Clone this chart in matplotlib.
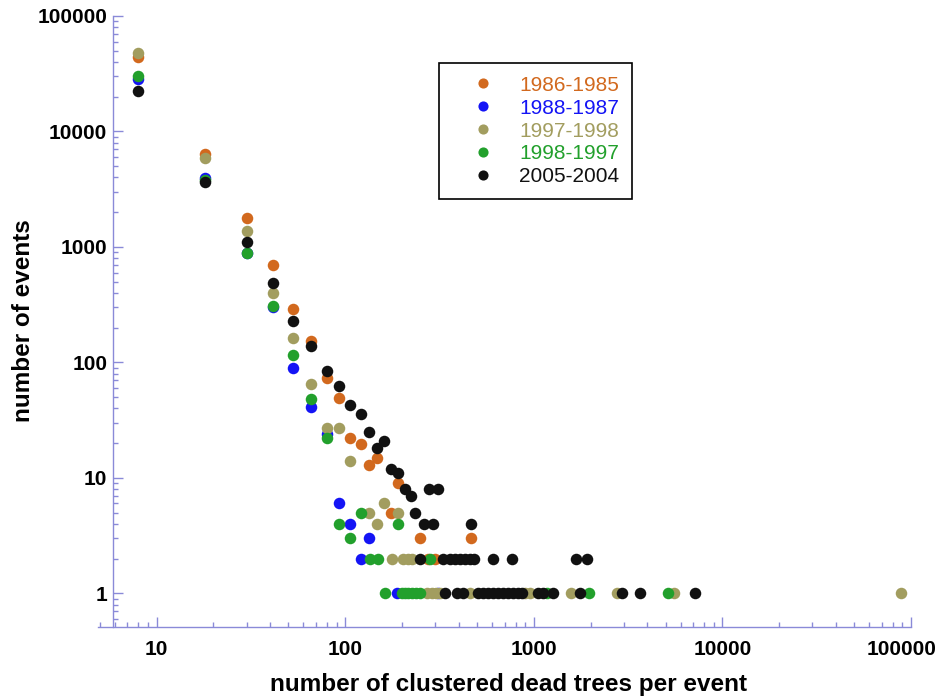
import matplotlib.pyplot as plt
from matplotlib.ticker import FuncFormatter, NullFormatter
from matplotlib.transforms import ScaledTranslation

plt.rcParams['font.family'] = ['Liberation Sans', 'DejaVu Sans']

# data: (cluster size, number of events)
labels = ['1986-1985', '1988-1987', '1997-1998', '1998-1997', '2005-2004']
colors = ['#d2691e', '#1414f5', '#a29d5f', '#22a02c', '#111111']

orange_x = [8, 18, 30, 41.5, 53, 65.7, 79.6, 93, 106, 121, 134, 147, 174, 191,
            249, 464, 276, 299]
orange_y = [43700, 6380, 1770, 693, 289, 154, 73, 49, 22, 19.5, 13, 15, 5, 9,
            3, 3, 2, 2]

blue_x = [8, 18, 30, 41.5, 53, 65.7, 79.6, 93, 106, 121, 134, 189, 311]
blue_y = [28300, 3960, 880, 300, 89, 41, 24, 6, 4, 2, 3, 1, 1]

olive_x = [8, 18, 30, 41.5, 53, 65.7, 79.6, 93, 106, 134, 147, 161, 176, 191,
           203, 216, 225, 270, 287, 303, 318, 458, 898, 955, 1575, 2775, 5510,
           88300]
olive_y = [47500, 5890, 1372, 398, 162, 65, 27, 27, 14, 5, 4, 6, 2, 5,
           2, 2, 2, 1, 1, 1, 1, 1, 1, 1, 1, 1, 1, 1]

green_x = [8, 18, 30, 41.5, 53, 65.7, 79.6, 93, 106, 121, 191, 135, 150, 281,
           162, 199, 207, 216, 226, 237, 250, 1169, 1967, 5130]
green_y = [30500, 3800, 891, 305, 116, 48, 22, 4, 3, 5, 4, 2, 2, 2,
           1, 1, 1, 1, 1, 1, 1, 1, 1, 1]

black_x = [8, 18, 30, 41.5, 53, 65.7, 79.6, 93, 106, 121, 134, 147, 161, 174,
           191, 207, 222, 234, 261, 279, 293, 309, 467,
           249, 328, 359, 382, 406, 431, 459, 483, 609, 763, 1671, 1919,
           340, 390, 423, 507, 537, 571, 607, 645, 686, 729, 775, 824, 861,
           1054, 1121, 1262, 1747, 2938, 3653, 7190]
black_y = [22600, 3630, 1102, 490, 229, 139, 85, 63, 43, 36, 25, 18, 21, 12,
           11, 8, 7, 5, 4, 8, 4, 8, 4,
           2, 2, 2, 2, 2, 2, 2, 2, 2, 2, 2, 2,
           1, 1, 1, 1, 1, 1, 1, 1, 1, 1, 1, 1, 1,
           1, 1, 1, 1, 1, 1, 1]

series = [(orange_x, orange_y), (blue_x, blue_y), (olive_x, olive_y),
          (green_x, green_y), (black_x, black_y)]

axis_col = '#8a8ad8'

fig = plt.figure(figsize=(9.44, 6.98), dpi=100)
ax = fig.add_axes([0.1041, 0.1017, 0.8609, 0.8754])

handles = []
for (xs, ys), c, lab in zip(series, colors, labels):
    h, = ax.plot(xs, ys, 'o', color=c, markersize=8.3, markeredgewidth=0, label=lab)
    handles.append(h)

ax.set_xscale('log')
ax.set_yscale('log')
ax.set_xlim(4.9, 1e5)
ax.set_ylim(0.511, 1e5)

ax.spines['top'].set_visible(False)
ax.spines['right'].set_visible(False)
ax.spines['left'].set_position(('data', 5.85))
for s in ['left', 'bottom']:
    ax.spines[s].set_color(axis_col)
    ax.spines[s].set_linewidth(1.0)

fmt = FuncFormatter(lambda v, p: f"{v:g}")
ax.xaxis.set_major_formatter(fmt)
ax.yaxis.set_major_formatter(fmt)
ax.xaxis.set_minor_formatter(NullFormatter())
ax.yaxis.set_minor_formatter(NullFormatter())

ax.tick_params(which='both', direction='in', color=axis_col, width=1.0)
ax.tick_params(which='major', length=7)
ax.tick_params(which='minor', length=3.5)
ax.tick_params(axis='x', which='major', pad=9.5)
ax.tick_params(axis='y', which='major', pad=4)
for t in ax.get_xticklabels() + ax.get_yticklabels():
    t.set_fontsize(15)
    t.set_fontweight('bold')

# keep the last x label inside the picture
for tick in ax.xaxis.get_major_ticks():
    if abs(tick.get_loc() - 1e5) < 1:
        lab = tick.label1
        lab.set_transform(lab.get_transform() +
                          ScaledTranslation(-9 / 100, 0, fig.dpi_scale_trans))

fig.text(508 / 944, 1 - 685 / 698, 'number of clustered dead trees per event',
         ha='center', va='center', fontsize=17.5, fontweight='bold')
fig.text(24 / 944, 1 - 321 / 698, 'number of events', rotation=90,
         ha='center', va='center', fontsize=17.5, fontweight='bold')

leg = ax.legend(handles=handles, loc='upper left',
                bbox_to_anchor=(439.3 / 944, 1 - 62.7 / 698),
                bbox_transform=fig.transFigure, borderaxespad=0,
                fontsize=15, labelcolor=colors, frameon=True, fancybox=False,
                edgecolor='black', framealpha=1, borderpad=0.62,
                handlelength=2.99, handletextpad=0.23, labelspacing=0.19,
                markerscale=0.88)
leg.get_frame().set_linewidth(1.2)

fig.savefig('out.png', dpi=100)
